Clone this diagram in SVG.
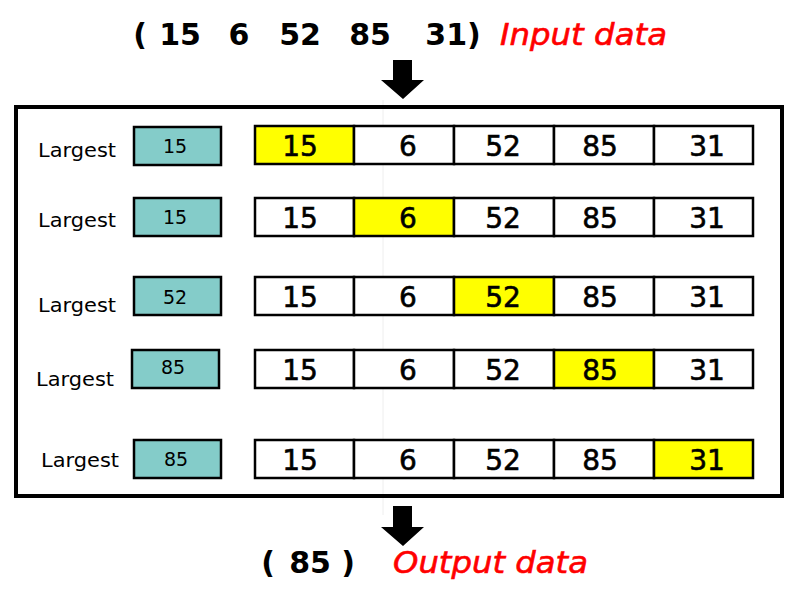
<svg xmlns="http://www.w3.org/2000/svg" width="800" height="600" viewBox="0 0 800 600">
<style>
.num{font-family:"DejaVu Sans","Liberation Sans",sans-serif;font-size:28px;fill:#000;text-anchor:middle;stroke:#000;stroke-width:0.6}
.top{font-family:"DejaVu Sans","Liberation Sans",sans-serif;font-size:30px;font-weight:bold;fill:#000;text-anchor:middle}
.red{font-family:"DejaVu Sans","Liberation Sans",sans-serif;font-size:31px;font-style:italic;fill:#ff0000;stroke:#ff0000;stroke-width:0.6}
.lab{font-family:"DejaVu Sans","Liberation Sans",sans-serif;font-size:20px;fill:#000}
.small{font-family:"DejaVu Sans","Liberation Sans",sans-serif;font-size:19px;fill:#000;text-anchor:middle}
.cell{fill:#fff;stroke:#000;stroke-width:2.5}
.hi{fill:#ffff00;stroke:#000;stroke-width:2.5}
.teal{fill:#84ccc9;stroke:#000;stroke-width:2.5}
</style>
<rect width="800" height="600" fill="#fff"/>
<line x1="383" y1="100" x2="383" y2="515" stroke="#eeeeee" stroke-width="1"/>
<g id="input">
<text class="top" x="140" y="45">(</text>
<text class="top" x="180" y="45">15</text>
<text class="top" x="239" y="45">6</text>
<text class="top" x="300" y="45">52</text>
<text class="top" x="370" y="45">85</text>
<text class="top" x="453" y="45">31)</text>
<text class="red" x="500" y="45" textLength="167" lengthAdjust="spacingAndGlyphs">Input data</text>
</g>
<g id="connectors">
<polygon points="393,60 412,60 412,80 424,80 403,99 381,80 393,80" fill="#000"/>
<polygon points="393,506 412,506 412,527 424,527 403,546 381,527 393,527" fill="#000"/>
</g>
<g id="frame">
<rect x="16" y="107" width="766" height="389" fill="none" stroke="#000" stroke-width="4"/>
</g>
<g id="row1">
<text class="lab" x="38" y="157" textLength="78" lengthAdjust="spacingAndGlyphs">Largest</text>
<rect class="teal" x="134" y="127" width="87" height="38"/>
<text class="small" x="175" y="153">15</text>
<rect class="hi" x="255" y="126" width="99" height="38"/>
<rect class="cell" x="354" y="126" width="100" height="38"/>
<rect class="cell" x="454" y="126" width="100" height="38"/>
<rect class="cell" x="554" y="126" width="100" height="38"/>
<rect class="cell" x="654" y="126" width="99" height="38"/>
<text class="num" x="300" y="156">15</text>
<text class="num" x="408" y="156">6</text>
<text class="num" x="503" y="156">52</text>
<text class="num" x="600" y="156">85</text>
<text class="num" x="707" y="156">31</text>
</g>
<g id="row2">
<text class="lab" x="38" y="227" textLength="78" lengthAdjust="spacingAndGlyphs">Largest</text>
<rect class="teal" x="134" y="198" width="87" height="38"/>
<text class="small" x="175" y="224">15</text>
<rect class="cell" x="255" y="198" width="99" height="38"/>
<rect class="hi" x="354" y="198" width="100" height="38"/>
<rect class="cell" x="454" y="198" width="100" height="38"/>
<rect class="cell" x="554" y="198" width="100" height="38"/>
<rect class="cell" x="654" y="198" width="99" height="38"/>
<text class="num" x="300" y="228">15</text>
<text class="num" x="408" y="228">6</text>
<text class="num" x="503" y="228">52</text>
<text class="num" x="600" y="228">85</text>
<text class="num" x="707" y="228">31</text>
</g>
<g id="row3">
<text class="lab" x="38" y="312" textLength="78" lengthAdjust="spacingAndGlyphs">Largest</text>
<rect class="teal" x="134" y="277" width="87" height="38"/>
<text class="small" x="175" y="304">52</text>
<rect class="cell" x="255" y="277" width="99" height="38"/>
<rect class="cell" x="354" y="277" width="100" height="38"/>
<rect class="hi" x="454" y="277" width="100" height="38"/>
<rect class="cell" x="554" y="277" width="100" height="38"/>
<rect class="cell" x="654" y="277" width="99" height="38"/>
<text class="num" x="300" y="307">15</text>
<text class="num" x="408" y="307">6</text>
<text class="num" x="503" y="307">52</text>
<text class="num" x="600" y="307">85</text>
<text class="num" x="707" y="307">31</text>
</g>
<g id="row4">
<text class="lab" x="36" y="386" textLength="78" lengthAdjust="spacingAndGlyphs">Largest</text>
<rect class="teal" x="132" y="350" width="87" height="38"/>
<text class="small" x="173" y="374">85</text>
<rect class="cell" x="255" y="350" width="99" height="38"/>
<rect class="cell" x="354" y="350" width="100" height="38"/>
<rect class="cell" x="454" y="350" width="100" height="38"/>
<rect class="hi" x="554" y="350" width="100" height="38"/>
<rect class="cell" x="654" y="350" width="99" height="38"/>
<text class="num" x="300" y="380">15</text>
<text class="num" x="408" y="380">6</text>
<text class="num" x="503" y="380">52</text>
<text class="num" x="600" y="380">85</text>
<text class="num" x="707" y="380">31</text>
</g>
<g id="row5">
<text class="lab" x="41" y="467" textLength="78" lengthAdjust="spacingAndGlyphs">Largest</text>
<rect class="teal" x="134" y="440" width="87" height="38"/>
<text class="small" x="176" y="466">85</text>
<rect class="cell" x="255" y="440" width="99" height="38"/>
<rect class="cell" x="354" y="440" width="100" height="38"/>
<rect class="cell" x="454" y="440" width="100" height="38"/>
<rect class="cell" x="554" y="440" width="100" height="38"/>
<rect class="hi" x="654" y="440" width="99" height="38"/>
<text class="num" x="300" y="470">15</text>
<text class="num" x="408" y="470">6</text>
<text class="num" x="503" y="470">52</text>
<text class="num" x="600" y="470">85</text>
<text class="num" x="707" y="470">31</text>
</g>
<g id="output">
<text class="top" x="268" y="573">(</text>
<text class="top" x="310" y="573">85</text>
<text class="top" x="348" y="573">)</text>
<text class="red" x="393" y="573" textLength="195" lengthAdjust="spacingAndGlyphs">Output data</text>
</g>
</svg>
